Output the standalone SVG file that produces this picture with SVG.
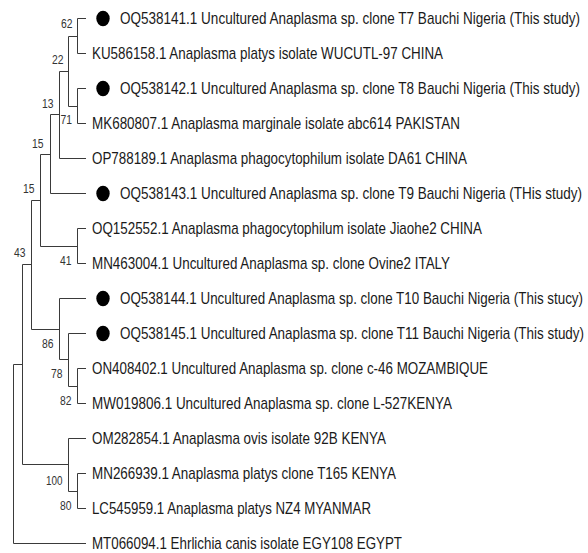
<svg xmlns="http://www.w3.org/2000/svg" width="588" height="553" viewBox="0 0 588 553">
<style>
.lbl{font-family:"Liberation Sans",Arial,sans-serif;font-size:16px;fill:#1a1a1a}
.bs{font-family:"Liberation Sans",Arial,sans-serif;font-size:12.5px;fill:#333}
.br{fill:none;stroke:#3a3a3a;stroke-width:1}
.dot{fill:#000}
</style>
<rect width="588" height="553" fill="#fff"/>
<g id="connectors">
<path class="br" d="M86 18.5H77.5V53.5H86"/>
<path class="br" d="M86 88.5H77.5V123.5H86"/>
<path class="br" d="M77.5 36.5H68.5V106.5H77.5"/>
<path class="br" d="M68.5 71.5H59.5V158.5H86"/>
<path class="br" d="M59.5 114.5H50.5V193.5H86"/>
<path class="br" d="M86 228.5H77.5V263.5H86"/>
<path class="br" d="M50.5 154.5H40.5V246.5H77.5"/>
<path class="br" d="M86 368.5H77.5V403.5H86"/>
<path class="br" d="M86 333.5H68.5V386.5H77.5"/>
<path class="br" d="M86 298.5H59.5V359.5H68.5"/>
<path class="br" d="M40.5 200.5H31.5V329.5H59.5"/>
<path class="br" d="M86 473.5H77.5V508.5H86"/>
<path class="br" d="M86 438.5H68.5V491.5H77.5"/>
<path class="br" d="M31.5 264.5H22.5V464.5H68.5"/>
<path class="br" d="M22.5 364.5H13.5V543.5H86"/>
</g>
<g id="bootstrap">
<g id="n62"><text class="bs" x="61" y="28" textLength="11.5" lengthAdjust="spacingAndGlyphs">62</text></g>
<g id="n22"><text class="bs" x="52" y="64" textLength="11.5" lengthAdjust="spacingAndGlyphs">22</text></g>
<g id="n13"><text class="bs" x="42" y="108" textLength="11.5" lengthAdjust="spacingAndGlyphs">13</text></g>
<g id="n71"><text class="bs" x="60.5" y="124" textLength="11.5" lengthAdjust="spacingAndGlyphs">71</text></g>
<g id="n15a"><text class="bs" x="32" y="148" textLength="11.5" lengthAdjust="spacingAndGlyphs">15</text></g>
<g id="n15b"><text class="bs" x="23" y="193" textLength="11.5" lengthAdjust="spacingAndGlyphs">15</text></g>
<g id="n43"><text class="bs" x="14" y="257" textLength="11.5" lengthAdjust="spacingAndGlyphs">43</text></g>
<g id="n41"><text class="bs" x="60" y="265" textLength="11.5" lengthAdjust="spacingAndGlyphs">41</text></g>
<g id="n86"><text class="bs" x="42" y="348" textLength="11.5" lengthAdjust="spacingAndGlyphs">86</text></g>
<g id="n78"><text class="bs" x="51" y="378" textLength="11.5" lengthAdjust="spacingAndGlyphs">78</text></g>
<g id="n82"><text class="bs" x="60" y="405" textLength="11.5" lengthAdjust="spacingAndGlyphs">82</text></g>
<g id="n100"><text class="bs" x="46" y="485" textLength="16.5" lengthAdjust="spacingAndGlyphs">100</text></g>
<g id="n80"><text class="bs" x="60" y="510" textLength="11.5" lengthAdjust="spacingAndGlyphs">80</text></g>
</g>
<g id="leaf1"><ellipse class="dot" cx="103" cy="18.5" rx="6.7" ry="7.8"/><text class="lbl" transform="translate(120 24.3) scale(0.834 1)" textLength="551.6" lengthAdjust="spacingAndGlyphs">OQ538141.1 Uncultured Anaplasma sp. clone T7 Bauchi Nigeria (This study)</text></g>
<g id="leaf2"><text class="lbl" transform="translate(92 59.3) scale(0.834 1)" textLength="420.9" lengthAdjust="spacingAndGlyphs">KU586158.1 Anaplasma platys isolate WUCUTL-97 CHINA</text></g>
<g id="leaf3"><ellipse class="dot" cx="103" cy="88.5" rx="6.7" ry="7.8"/><text class="lbl" transform="translate(120 94.3) scale(0.834 1)" textLength="551.6" lengthAdjust="spacingAndGlyphs">OQ538142.1 Uncultured Anaplasma sp. clone T8 Bauchi Nigeria (This study)</text></g>
<g id="leaf4"><text class="lbl" transform="translate(92 129.3) scale(0.834 1)" textLength="441.2" lengthAdjust="spacingAndGlyphs">MK680807.1 Anaplasma marginale isolate abc614 PAKISTAN</text></g>
<g id="leaf5"><text class="lbl" transform="translate(92 164.3) scale(0.834 1)" textLength="449.6" lengthAdjust="spacingAndGlyphs">OP788189.1 Anaplasma phagocytophilum isolate DA61 CHINA</text></g>
<g id="leaf6"><ellipse class="dot" cx="103" cy="193.5" rx="6.7" ry="7.8"/><text class="lbl" transform="translate(120 199.3) scale(0.834 1)" textLength="554" lengthAdjust="spacingAndGlyphs">OQ538143.1 Uncultured Anaplasma sp. clone T9 Bauchi Nigeria (THis study)</text></g>
<g id="leaf7"><text class="lbl" transform="translate(92 234.3) scale(0.834 1)" textLength="467.6" lengthAdjust="spacingAndGlyphs">OQ152552.1 Anaplasma phagocytophilum isolate Jiaohe2 CHINA</text></g>
<g id="leaf8"><text class="lbl" transform="translate(92 269.3) scale(0.834 1)" textLength="429.3" lengthAdjust="spacingAndGlyphs">MN463004.1 Uncultured Anaplasma sp. clone Ovine2 ITALY</text></g>
<g id="leaf9"><ellipse class="dot" cx="103" cy="298.5" rx="6.7" ry="7.8"/><text class="lbl" transform="translate(120 304.3) scale(0.834 1)" textLength="555.2" lengthAdjust="spacingAndGlyphs">OQ538144.1 Uncultured Anaplasma sp. clone T10 Bauchi Nigeria (This stucy)</text></g>
<g id="leaf10"><ellipse class="dot" cx="103" cy="333.5" rx="6.7" ry="7.8"/><text class="lbl" transform="translate(120 339.3) scale(0.834 1)" textLength="556.4" lengthAdjust="spacingAndGlyphs">OQ538145.1 Uncultured Anaplasma sp. clone T11 Bauchi Nigeria (This study)</text></g>
<g id="leaf11"><text class="lbl" transform="translate(92 374.3) scale(0.834 1)" textLength="474.8" lengthAdjust="spacingAndGlyphs">ON408402.1 Uncultured Anaplasma sp. clone c-46 MOZAMBIQUE</text></g>
<g id="leaf12"><text class="lbl" transform="translate(92 409.3) scale(0.834 1)" textLength="431.7" lengthAdjust="spacingAndGlyphs">MW019806.1 Uncultured Anaplasma sp. clone L-527KENYA</text></g>
<g id="leaf13"><text class="lbl" transform="translate(92 444.3) scale(0.834 1)" textLength="352.5" lengthAdjust="spacingAndGlyphs">OM282854.1 Anaplasma ovis isolate 92B KENYA</text></g>
<g id="leaf14"><text class="lbl" transform="translate(92 479.3) scale(0.834 1)" textLength="364.5" lengthAdjust="spacingAndGlyphs">MN266939.1 Anaplasma platys clone T165 KENYA</text></g>
<g id="leaf15"><text class="lbl" transform="translate(92 514.3) scale(0.834 1)" textLength="334.5" lengthAdjust="spacingAndGlyphs">LC545959.1 Anaplasma platys NZ4 MYANMAR</text></g>
<g id="leaf16"><text class="lbl" transform="translate(92 549.3) scale(0.834 1)" textLength="371.7" lengthAdjust="spacingAndGlyphs">MT066094.1 Ehrlichia canis isolate EGY108 EGYPT</text></g>
</svg>
